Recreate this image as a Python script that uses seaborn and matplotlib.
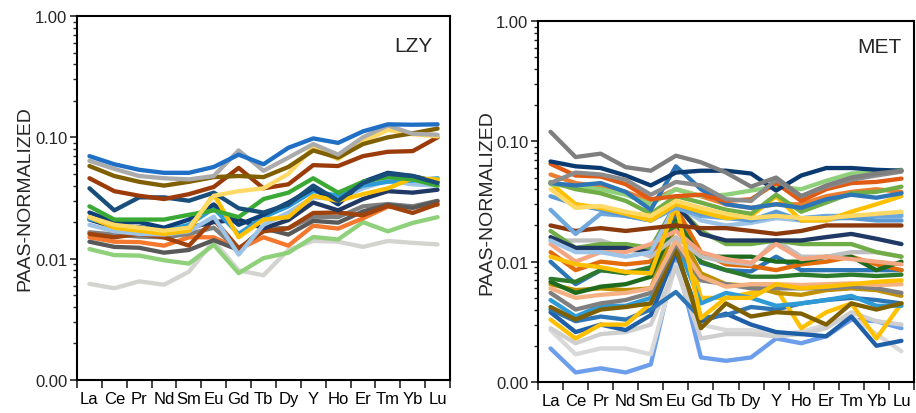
import numpy as np
import pandas as pd
import matplotlib
matplotlib.use("Agg")
import matplotlib.pyplot as plt
import seaborn as sns
from matplotlib.ticker import FixedLocator, FuncFormatter, LogLocator, NullFormatter

elements = ["La", "Ce", "Pr", "Nd", "Sm", "Eu", "Gd", "Tb", "Dy", "Y", "Ho", "Er", "Tm", "Yb", "Lu"]
ytick_values = [0.001, 0.01, 0.1, 1.0]
ytick_labels = ["0.00", "0.01", "0.10", "1.00"]
y_label = "PAAS-NORMALIZED"
panel_titles = ["LZY", "MET"]

# ---------------- LZY samples ----------------
lzy_colors = [
    "#d3d3cf", "#8fd17a", "#f4782e", "#7f7f7f", "#595959", "#a0420c",
    "#1f3864", "#9dc3e6", "#2e9bd6", "#0d3f78", "#ffc000", "#3aaa35",
    "#1a4e7a", "#9c3b0a", "#ffd966", "#7f5f00", "#ababab", "#1f6fc5",
]
lzy_values = [
    [0.0062, 0.0057, 0.0065, 0.0061, 0.0078, 0.0140, 0.0080, 0.0073, 0.0118, 0.0140, 0.0138, 0.0125, 0.0140, 0.0135, 0.0131],
    [0.0120, 0.0107, 0.0106, 0.0097, 0.0091, 0.0130, 0.0076, 0.0101, 0.0112, 0.0151, 0.0144, 0.0200, 0.0168, 0.0197, 0.0220],
    [0.0150, 0.0138, 0.0137, 0.0128, 0.0150, 0.0150, 0.0120, 0.0150, 0.0128, 0.0187, 0.0177, 0.0215, 0.0268, 0.0270, 0.0278],
    [0.0165, 0.0158, 0.0152, 0.0150, 0.0160, 0.0180, 0.0118, 0.0180, 0.0178, 0.0222, 0.0220, 0.0270, 0.0282, 0.0270, 0.0300],
    [0.0138, 0.0125, 0.0123, 0.0112, 0.0118, 0.0142, 0.0118, 0.0178, 0.0158, 0.0205, 0.0198, 0.0245, 0.0278, 0.0262, 0.0298],
    [0.0160, 0.0150, 0.0160, 0.0150, 0.0128, 0.0210, 0.0122, 0.0168, 0.0178, 0.0238, 0.0240, 0.0228, 0.0272, 0.0238, 0.0282],
    [0.0210, 0.0182, 0.0182, 0.0170, 0.0180, 0.0200, 0.0210, 0.0178, 0.0208, 0.0290, 0.0250, 0.0310, 0.0360, 0.0350, 0.0370],
    [0.0190, 0.0168, 0.0160, 0.0158, 0.0168, 0.0222, 0.0108, 0.0190, 0.0240, 0.0320, 0.0310, 0.0380, 0.0440, 0.0410, 0.0400],
    [0.0212, 0.0190, 0.0180, 0.0170, 0.0190, 0.0260, 0.0160, 0.0220, 0.0270, 0.0360, 0.0330, 0.0400, 0.0430, 0.0440, 0.0460],
    [0.0240, 0.0200, 0.0200, 0.0180, 0.0210, 0.0280, 0.0190, 0.0230, 0.0290, 0.0380, 0.0280, 0.0430, 0.0510, 0.0480, 0.0430],
    [0.0220, 0.0180, 0.0170, 0.0160, 0.0170, 0.0340, 0.0150, 0.0210, 0.0220, 0.0330, 0.0300, 0.0340, 0.0380, 0.0460, 0.0450],
    [0.0270, 0.0210, 0.0210, 0.0210, 0.0230, 0.0250, 0.0220, 0.0310, 0.0350, 0.0460, 0.0350, 0.0430, 0.0470, 0.0450, 0.0400],
    [0.0380, 0.0250, 0.0320, 0.0320, 0.0300, 0.0350, 0.0260, 0.0240, 0.0280, 0.0400, 0.0300, 0.0420, 0.0500, 0.0480, 0.0420],
    [0.0460, 0.0360, 0.0330, 0.0310, 0.0340, 0.0390, 0.0560, 0.0380, 0.0410, 0.0590, 0.0580, 0.0700, 0.0760, 0.0770, 0.1000],
    [0.0220, 0.0190, 0.0180, 0.0170, 0.0180, 0.0330, 0.0360, 0.0380, 0.0500, 0.0830, 0.0660, 0.0920, 0.1150, 0.1060, 0.1020],
    [0.0580, 0.0480, 0.0430, 0.0400, 0.0430, 0.0470, 0.0480, 0.0470, 0.0570, 0.0780, 0.0680, 0.0880, 0.1000, 0.1080, 0.1180],
    [0.0640, 0.0550, 0.0480, 0.0460, 0.0450, 0.0480, 0.0780, 0.0530, 0.0680, 0.0880, 0.0720, 0.1000, 0.1250, 0.1070, 0.1050],
    [0.0700, 0.0600, 0.0540, 0.0510, 0.0510, 0.0570, 0.0720, 0.0600, 0.0820, 0.0980, 0.0900, 0.1120, 0.1280, 0.1270, 0.1280],
]

# ---------------- MET samples ----------------
met_colors = [
    "#6d9eeb", "#d9d9d9", "#cfcfcf", "#1f5fa8", "#2e75b6", "#ffc000", "#2e9bd6",
    "#7f6000", "#bf9000", "#7f7f7f", "#f4b183", "#2e75b6", "#e36c0a", "#1e6b1e",
    "#2d7a2d", "#bfbfbf", "#70ad47", "#1f3864", "#f4a582", "#9dc3e6", "#ffc000",
    "#8b3a0e", "#6fa8dc", "#5b9bd5", "#ffc000", "#ed7d31", "#8fd17a", "#70ad47",
    "#2e75b6", "#e05a14", "#0b3a70", "#8c8c8c", "#7f7f7f", "#ffd966",
]
met_values = [
    [0.0019, 0.0012, 0.0013, 0.0012, 0.0014, 0.0110, 0.0016, 0.0015, 0.0016, 0.0023, 0.0021, 0.0024, 0.0033, 0.0032, 0.0028],
    [0.0027, 0.0017, 0.0019, 0.0019, 0.0017, 0.0095, 0.0030, 0.0027, 0.0027, 0.0025, 0.0026, 0.0030, 0.0035, 0.0025, 0.0018],
    [0.0028, 0.0021, 0.0025, 0.0026, 0.0030, 0.0090, 0.0023, 0.0025, 0.0025, 0.0024, 0.0025, 0.0028, 0.0038, 0.0032, 0.0030],
    [0.0038, 0.0026, 0.0030, 0.0027, 0.0036, 0.0120, 0.0032, 0.0037, 0.0030, 0.0026, 0.0025, 0.0024, 0.0035, 0.0020, 0.0022],
    [0.0040, 0.0032, 0.0035, 0.0033, 0.0040, 0.0056, 0.0034, 0.0036, 0.0042, 0.0040, 0.0045, 0.0048, 0.0050, 0.0048, 0.0045],
    [0.0033, 0.0023, 0.0030, 0.0030, 0.0045, 0.0330, 0.0050, 0.0050, 0.0055, 0.0060, 0.0028, 0.0038, 0.0045, 0.0023, 0.0045],
    [0.0048, 0.0035, 0.0043, 0.0043, 0.0050, 0.0150, 0.0045, 0.0055, 0.0050, 0.0043, 0.0045, 0.0048, 0.0052, 0.0043, 0.0043],
    [0.0042, 0.0033, 0.0040, 0.0042, 0.0045, 0.0130, 0.0028, 0.0045, 0.0035, 0.0038, 0.0037, 0.0030, 0.0045, 0.0040, 0.0045],
    [0.0065, 0.0058, 0.0060, 0.0058, 0.0060, 0.0200, 0.0080, 0.0065, 0.0063, 0.0055, 0.0053, 0.0058, 0.0060, 0.0058, 0.0052],
    [0.0055, 0.0040, 0.0045, 0.0048, 0.0055, 0.0140, 0.0070, 0.0065, 0.0060, 0.0060, 0.0060, 0.0060, 0.0062, 0.0060, 0.0055],
    [0.0060, 0.0050, 0.0053, 0.0055, 0.0060, 0.0150, 0.0075, 0.0062, 0.0065, 0.0065, 0.0064, 0.0065, 0.0066, 0.0064, 0.0065],
    [0.0100, 0.0065, 0.0085, 0.0082, 0.0085, 0.0250, 0.0098, 0.0085, 0.0083, 0.0110, 0.0085, 0.0085, 0.0085, 0.0085, 0.0085],
    [0.0120, 0.0085, 0.0100, 0.0095, 0.0100, 0.0280, 0.0120, 0.0095, 0.0092, 0.0085, 0.0095, 0.0100, 0.0110, 0.0095, 0.0085],
    [0.0068, 0.0055, 0.0062, 0.0065, 0.0075, 0.0220, 0.0110, 0.0110, 0.0110, 0.0100, 0.0100, 0.0110, 0.0110, 0.0085, 0.0100],
    [0.0072, 0.0068, 0.0085, 0.0080, 0.0090, 0.0210, 0.0100, 0.0085, 0.0075, 0.0075, 0.0078, 0.0076, 0.0078, 0.0076, 0.0078],
    [0.0150, 0.0150, 0.0150, 0.0130, 0.0110, 0.0160, 0.0110, 0.0100, 0.0095, 0.0150, 0.0110, 0.0110, 0.0120, 0.0120, 0.0110],
    [0.0180, 0.0130, 0.0140, 0.0140, 0.0130, 0.0300, 0.0180, 0.0140, 0.0140, 0.0150, 0.0140, 0.0140, 0.0140, 0.0120, 0.0110],
    [0.0160, 0.0130, 0.0130, 0.0130, 0.0120, 0.0300, 0.0170, 0.0150, 0.0150, 0.0150, 0.0150, 0.0160, 0.0170, 0.0155, 0.0140],
    [0.0140, 0.0100, 0.0120, 0.0120, 0.0140, 0.0180, 0.0120, 0.0105, 0.0098, 0.0140, 0.0105, 0.0110, 0.0105, 0.0100, 0.0095],
    [0.0150, 0.0120, 0.0120, 0.0110, 0.0120, 0.0300, 0.0220, 0.0200, 0.0210, 0.0230, 0.0220, 0.0220, 0.0240, 0.0240, 0.0250],
    [0.0110, 0.0095, 0.0090, 0.0082, 0.0080, 0.0300, 0.0034, 0.0050, 0.0050, 0.0065, 0.0060, 0.0062, 0.0065, 0.0068, 0.0070],
    [0.0200, 0.0180, 0.0190, 0.0180, 0.0190, 0.0200, 0.0190, 0.0190, 0.0180, 0.0170, 0.0180, 0.0200, 0.0200, 0.0200, 0.0200],
    [0.0270, 0.0170, 0.0250, 0.0240, 0.0220, 0.0280, 0.0240, 0.0230, 0.0220, 0.0240, 0.0230, 0.0240, 0.0240, 0.0240, 0.0240],
    [0.0350, 0.0300, 0.0270, 0.0240, 0.0220, 0.0300, 0.0250, 0.0240, 0.0220, 0.0260, 0.0220, 0.0230, 0.0230, 0.0220, 0.0220],
    [0.0450, 0.0300, 0.0280, 0.0250, 0.0220, 0.0300, 0.0260, 0.0230, 0.0240, 0.0350, 0.0220, 0.0220, 0.0260, 0.0300, 0.0350],
    [0.0530, 0.0450, 0.0420, 0.0380, 0.0320, 0.0400, 0.0350, 0.0300, 0.0280, 0.0300, 0.0300, 0.0350, 0.0380, 0.0400, 0.0380],
    [0.0440, 0.0420, 0.0400, 0.0360, 0.0300, 0.0400, 0.0350, 0.0360, 0.0390, 0.0420, 0.0400, 0.0470, 0.0540, 0.0550, 0.0580],
    [0.0460, 0.0400, 0.0370, 0.0320, 0.0250, 0.0350, 0.0310, 0.0270, 0.0250, 0.0360, 0.0260, 0.0310, 0.0370, 0.0380, 0.0420],
    [0.0450, 0.0430, 0.0450, 0.0380, 0.0270, 0.0620, 0.0400, 0.0300, 0.0280, 0.0300, 0.0280, 0.0330, 0.0360, 0.0340, 0.0370],
    [0.0650, 0.0520, 0.0510, 0.0440, 0.0330, 0.0350, 0.0360, 0.0320, 0.0330, 0.0450, 0.0320, 0.0400, 0.0450, 0.0460, 0.0490],
    [0.0680, 0.0620, 0.0600, 0.0520, 0.0430, 0.0550, 0.0570, 0.0570, 0.0540, 0.0390, 0.0520, 0.0600, 0.0600, 0.0580, 0.0570],
    [0.0450, 0.0550, 0.0530, 0.0480, 0.0360, 0.0460, 0.0430, 0.0330, 0.0320, 0.0480, 0.0350, 0.0420, 0.0480, 0.0520, 0.0560],
    [0.1200, 0.0740, 0.0790, 0.0610, 0.0570, 0.0760, 0.0670, 0.0550, 0.0420, 0.0500, 0.0350, 0.0430, 0.0500, 0.0540, 0.0570],
    [0.0400, 0.0280, 0.0290, 0.0260, 0.0240, 0.0320, 0.0280, 0.0250, 0.0230, 0.0240, 0.0230, 0.0230, 0.0240, 0.0250, 0.0260],
]


def to_long(values, prefix):
    rows = []
    for i, series in enumerate(values):
        for j, v in enumerate(series):
            rows.append({"sample": f"{prefix}{i:02d}", "pos": j, "element": elements[j], "value": v})
    return pd.DataFrame(rows)


sns.set_style("white")
plt.rcParams["font.family"] = ["Liberation Sans", "DejaVu Sans"]

W, H = 916, 414
fig = plt.figure(figsize=(W / 100, H / 100), dpi=100)
ax_l = fig.add_axes([77 / W, 1 - 381 / H, (450 - 77) / W, (381 - 17) / H])
ax_r = fig.add_axes([538 / W, 1 - 383 / H, (914 - 538) / W, (383 - 22) / H])

panels = [
    (ax_l, to_long(lzy_values, "L"), lzy_colors, panel_titles[0], (0.952, 0.918), -0.118),
    (ax_r, to_long(met_values, "M"), met_colors, panel_titles[1], (0.968, 0.930), -0.114),
]

for ax, df, colors, title, tpos, ylx in panels:
    sns.lineplot(data=df, x="pos", y="value", hue="sample", palette=colors,
                 legend=False, ax=ax, linewidth=3.1, sort=False, estimator=None)
    ax.set_yscale("log")
    ax.set_ylim(0.001, 1.0)
    ax.set_xlim(-0.5, len(elements) - 0.5)
    ax.yaxis.set_major_locator(FixedLocator(ytick_values))
    ax.yaxis.set_major_formatter(FuncFormatter(lambda v, p: ytick_labels[ytick_values.index(min(ytick_values, key=lambda t: abs(np.log10(t) - np.log10(v))))]))
    ax.yaxis.set_minor_locator(LogLocator(base=10, subs=np.arange(2, 10)))
    ax.yaxis.set_minor_formatter(NullFormatter())
    ax.set_xticks(range(len(elements)))
    ax.set_xticklabels(elements)
    ax.xaxis.set_minor_locator(FixedLocator(np.arange(-0.5, len(elements), 1.0)))
    ax.tick_params(axis="x", which="major", length=0, labelsize=12, pad=8, colors="black")
    ax.tick_params(axis="x", which="minor", length=6, width=1.2, direction="out", bottom=True)
    ax.tick_params(axis="y", which="major", length=5, width=1.2, direction="out", left=True, labelsize=12, pad=2)
    ax.tick_params(axis="y", which="minor", length=3, width=1.0, direction="out", left=True)
    for s in ax.spines.values():
        s.set_color("black")
        s.set_linewidth(1.5)
    ax.set_xlabel("")
    ax.set_ylabel(y_label, fontsize=14)
    ax.yaxis.set_label_coords(ylx, 0.5)
    ax.text(tpos[0], tpos[1], title, transform=ax.transAxes, ha="right", va="center", fontsize=15)

fig.savefig("out.png", dpi=100)
